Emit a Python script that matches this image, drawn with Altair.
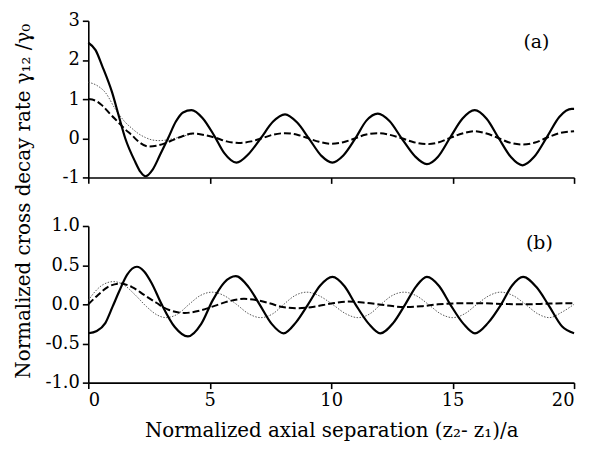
import altair as alt
import pandas as pd

# ---------------- panel (a) ----------------
a_solid_x = [0, 0.3, 0.57, 0.98, 1.25, 1.52, 1.93, 2.15, 2.35, 2.65, 2.95, 3.3, 3.6, 3.9, 4.25,
             4.7, 5.2, 5.6, 6.1, 6.6, 7.1, 7.6, 8.1, 8.6, 9.1, 9.6, 10.05, 10.5, 11.0, 11.45,
             11.92, 12.4, 12.9, 13.45, 13.94, 14.4, 14.9, 15.4, 15.91, 16.4, 16.9, 17.4, 17.88,
             18.35, 18.9, 19.4, 19.9, 20]
a_solid_y = [2.44, 2.25, 1.85, 1.17, 0.58, 0.00, -0.60, -0.86, -0.97, -0.80, -0.43, 0.02, 0.42, 0.66, 0.72,
             0.52, 0.05, -0.38, -0.62, -0.40, 0.00, 0.42, 0.61, 0.40, -0.02, -0.45, -0.62, -0.44, 0.00, 0.45,
             0.63, 0.44, 0.00, -0.46, -0.66, -0.47, 0.02, 0.50, 0.72, 0.50, 0.00, -0.48, -0.69,
             -0.48, 0.05, 0.55, 0.75, 0.75]

a_dash_x = [0, 0.3, 0.57, 0.9, 1.25, 1.5, 1.79, 2.1, 2.47, 2.8, 3.15, 3.5, 3.83, 4.3, 4.8, 5.2,
            5.7, 6.2, 6.7, 7.15, 7.6, 8.1, 8.6, 9.1, 9.5, 10.0, 10.5, 11.0, 11.4, 11.9, 12.4,
            12.9, 13.4, 13.95, 14.4, 14.9, 15.4, 15.9, 16.4, 16.9, 17.4, 17.9, 18.4, 18.9, 19.4, 20]
a_dash_y = [1.00, 0.96, 0.84, 0.62, 0.40, 0.24, 0.08, -0.10, -0.21, -0.19, -0.13, -0.04, 0.04, 0.12, 0.08, 0.02,
            -0.08, -0.12, -0.08, 0.00, 0.09, 0.13, 0.09, -0.01, -0.09, -0.14, -0.10, 0.00, 0.09, 0.13, 0.09,
            0.00, -0.10, -0.15, -0.11, 0.01, 0.12, 0.18, 0.12, 0.00, -0.12, -0.16, -0.11, 0.02, 0.13, 0.18]

a_dot_x = [0, 0.35, 0.7, 1.11, 1.52, 1.8, 2.06, 2.35, 2.61, 2.9, 3.15, 3.5, 3.83, 4.3]
a_dot_y = [1.43, 1.35, 1.17, 0.75, 0.41, 0.25, 0.12, 0.02, -0.04, -0.06, -0.05, -0.01, 0.04, 0.12]

# ---------------- panel (b) ----------------
b_solid_x = [0, 0.35, 0.7, 1.0, 1.25, 1.6, 2.0, 2.3, 2.61, 3.02, 3.56, 4.1, 4.65, 5.12, 5.6, 6.07,
             6.6, 7.05, 7.55, 8.04, 8.55, 9.05, 9.55, 10.05, 10.55, 11.0, 11.55, 12.02, 12.55,
             13.05, 13.5, 13.94, 14.45, 14.9, 15.45, 15.92, 16.45, 17.0, 17.45, 17.9, 18.45,
             18.95, 19.5, 20]
b_solid_y = [-0.37, -0.34, -0.24, -0.03, 0.15, 0.38, 0.48, 0.42, 0.27, 0.00, -0.29, -0.41, -0.25, 0.05, 0.28, 0.36,
             0.22, 0.00, -0.25, -0.37, -0.23, 0.00, 0.24, 0.35, 0.23, 0.00, -0.25, -0.37, -0.24,
             0.00, 0.23, 0.35, 0.23, 0.00, -0.25, -0.37, -0.24, 0.00, 0.24, 0.35, 0.22,
             -0.01, -0.28, -0.37]

b_dash_x = [0, 0.4, 0.8, 1.32, 1.8, 2.3, 2.8, 3.3, 3.97, 4.6, 5.2, 5.8, 6.41, 7.0, 7.5, 8.0,
            8.6, 9.3, 10.0, 10.7, 11.4, 12.2, 13.0, 13.7, 14.4, 15.1, 16.0, 17.0, 18.0, 19.0, 20]
b_dash_y = [0.00, 0.12, 0.22, 0.265, 0.22, 0.12, 0.02, -0.07, -0.11, -0.08, -0.02, 0.04, 0.07, 0.05, 0.01, -0.035,
            -0.05, -0.03, 0.01, 0.035, 0.02, -0.01, -0.035, -0.025, 0.00, 0.012, 0.015, 0.005, 0.00, 0.01, 0.015]

b_dot_x = [0, 0.3, 0.6, 1.04, 1.5, 1.93, 2.4, 2.8, 3.2, 3.7, 4.15, 4.6, 5.1, 5.6, 6.1, 6.6, 7.1,
           7.6, 8.05, 8.5, 9.0, 9.5, 10.05, 10.6, 11.1, 11.6, 12.05, 12.5, 13.0, 13.5, 14.0,
           14.5, 15.0, 15.5, 16.0, 16.5, 16.97, 17.5, 18.0, 18.5, 18.98, 19.5, 20]
b_dot_y = [0.05, 0.17, 0.25, 0.29, 0.24, 0.12, -0.03, -0.13, -0.17, -0.12, 0.00, 0.11, 0.155, 0.11, 0.00, -0.12, -0.17,
           -0.12, 0.00, 0.11, 0.155, 0.11, 0.00, -0.12, -0.17, -0.12, 0.00, 0.11, 0.155, 0.11, 0.00,
           -0.12, -0.17, -0.12, 0.00, 0.11, 0.155, 0.11, 0.00, -0.12, -0.17, -0.10, 0.00]

x_ticks = [0, 5, 10, 15, 20]
a_ticks = [-1, 0, 1, 2, 3]
b_ticks = [-1.0, -0.5, 0.0, 0.5, 1.0]

y_title = "Normalized cross decay rate  γ₁₂ /γ₀"
x_title = "Normalized axial separation (z₂- z₁)/a"

FONT = "DejaVu Serif"
W, H = 490, 158


def panel(sx, sy, dx, dy, ox, oy, ydomain, yticks, yfmt, xlabels, label, label_x, label_y):
    xs = alt.X("x:Q", scale=alt.Scale(domain=[0, 20], nice=False),
               axis=alt.Axis(values=x_ticks, labels=xlabels, title=x_title if xlabels else None,
                             tickSize=6, labelPadding=3, titlePadding=11))
    ys = alt.Y("y:Q", scale=alt.Scale(domain=ydomain, nice=False),
               axis=alt.Axis(values=yticks, format=yfmt, title=None, tickSize=6, labelPadding=3,
                             labelExpr="replace(datum.label, '\u2212', '-')"))
    solid = alt.Chart(pd.DataFrame({"x": sx, "y": sy})).mark_line(
        interpolate="monotone", color="black", strokeWidth=2.2).encode(x=xs, y=ys)
    dash = alt.Chart(pd.DataFrame({"x": dx, "y": dy})).mark_line(
        interpolate="monotone", color="black", strokeWidth=2.0, strokeDash=[7, 3]).encode(x=xs, y=ys)
    dot = alt.Chart(pd.DataFrame({"x": ox, "y": oy})).mark_line(
        interpolate="monotone", color="#444444", strokeWidth=0.9, strokeDash=[1.5, 1.5]).encode(x=xs, y=ys)
    lab = alt.Chart(pd.DataFrame({"t": [label]})).mark_text(
        font=FONT, fontSize=19, color="black", align="center", baseline="middle").encode(
        text="t:N", x=alt.value(label_x), y=alt.value(label_y))
    return [dot, dash, solid, lab]


top_layers = panel(a_solid_x, a_solid_y, a_dash_x, a_dash_y, a_dot_x, a_dot_y,
                   [-1, 3], a_ticks, "d", False, "(a)", 452, 21)
ytitle = alt.Chart(pd.DataFrame({"t": [y_title]})).mark_text(
    font=FONT, fontSize=20, color="black", angle=270, align="center", baseline="middle").encode(
    text="t:N", x=alt.value(-65), y=alt.value(182))
top = alt.layer(*top_layers, ytitle).properties(width=W, height=H)

bottom_layers = panel(b_solid_x, b_solid_y, b_dash_x, b_dash_y, b_dot_x, b_dot_y,
                      [-1, 1], b_ticks, ".1f", True, "(b)", 455, 17)
bottom = alt.layer(*bottom_layers).properties(width=W, height=H)

chart = alt.vconcat(top, bottom, spacing=49).properties(
    bounds="flush",
    padding={"left": 5, "top": 2, "right": 2, "bottom": 2},
).configure_axis(
    labelFont=FONT, titleFont=FONT, labelFontSize=18, titleFontSize=20,
    labelColor="black", titleColor="black", domainColor="black", tickColor="black",
    domainWidth=1.6, tickWidth=1.6, grid=False, titleFontWeight="normal"
).configure_view(strokeWidth=0)

chart.save("out.html", embed_options={"renderer": "svg", "actions": False})
